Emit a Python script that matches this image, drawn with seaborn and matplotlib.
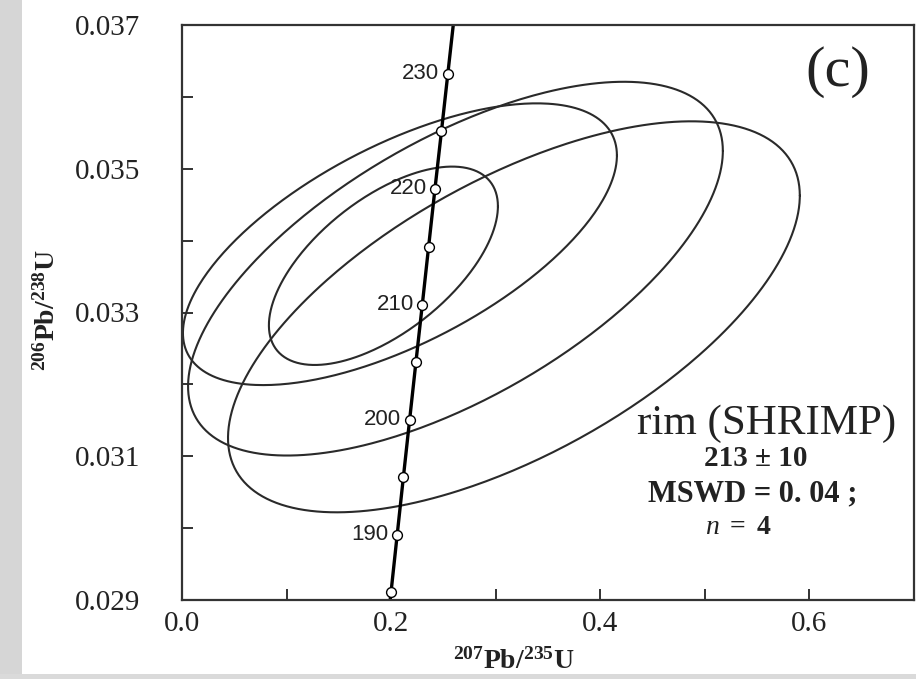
import numpy as np
import pandas as pd
import seaborn as sns
import matplotlib.pyplot as plt
from matplotlib.patches import Rectangle

# Concordia points (age in Ma, 207Pb/235U, 206Pb/238U)
ages = [185, 190, 195, 200, 205, 210, 215, 220, 225, 230]
conc_x = [0.1999, 0.2058, 0.2117, 0.2177, 0.2237, 0.2298, 0.2358, 0.2419, 0.2481, 0.2542]
conc_y = [0.02911, 0.02991, 0.03071, 0.03151, 0.03231, 0.03311, 0.03391, 0.03472, 0.03552, 0.03632]
labelled_ages = [190, 200, 210, 220, 230]

# concordia curve extended past the axes
curve_x = [0.1940, 0.1999, 0.2058, 0.2117, 0.2177, 0.2237, 0.2298, 0.2358,
           0.2419, 0.2481, 0.2542, 0.2604, 0.2667]
curve_y = [0.02832, 0.02911, 0.02991, 0.03071, 0.03151, 0.03231, 0.03311, 0.03391,
           0.03472, 0.03552, 0.03632, 0.03713, 0.03793]

# error ellipses: centre, half-widths and correlation
ell_cx = [0.1926, 0.2084, 0.2615, 0.3174]
ell_cy = [0.03365, 0.03395, 0.03361, 0.03294]
ell_sx = [0.1095, 0.2075, 0.2557, 0.2734]
ell_sy = [0.00138, 0.00196, 0.00260, 0.00272]
ell_rho = [0.60, 0.63, 0.63, 0.62]

sns.set_theme(style='ticks')
plt.rcParams['font.family'] = ['Liberation Serif', 'DejaVu Serif']
plt.rcParams['mathtext.fontset'] = 'custom'
plt.rcParams['mathtext.rm'] = 'Liberation Serif'
plt.rcParams['mathtext.bf'] = 'Liberation Serif:bold'
plt.rcParams['mathtext.it'] = 'Liberation Serif:italic'

fig = plt.figure(figsize=(9.16, 6.79), dpi=100, facecolor='white')
ax = fig.add_axes([182 / 916, 1 - 600 / 679, 732 / 916, 575 / 679])

# textured paper strip on the left, approximated with flat grey
fig.patches.append(Rectangle((0, 0), 22 / 916, 1, transform=fig.transFigure,
                             facecolor='#d6d6d6', edgecolor='none', zorder=-1))
fig.patches.append(Rectangle((0, 0), 1, 5 / 679, transform=fig.transFigure,
                             facecolor='#dadada', edgecolor='none', zorder=-1))

# ellipse outlines
t = np.linspace(0, 2 * np.pi, 400)
rows = []
for i in range(len(ell_cx)):
    ex = ell_cx[i] + ell_sx[i] * np.cos(t)
    ey = ell_cy[i] + ell_sy[i] * (ell_rho[i] * np.cos(t) + np.sqrt(1 - ell_rho[i] ** 2) * np.sin(t))
    rows.append(pd.DataFrame({'x': ex, 'y': ey, 'ell': i}))
ell_df = pd.concat(rows)
sns.lineplot(data=ell_df, x='x', y='y', units='ell', estimator=None, sort=False,
             color='#2a2a2a', linewidth=1.5, ax=ax, legend=False)

# concordia
sns.lineplot(x=curve_x, y=curve_y, sort=False, color='black', linewidth=2.4, ax=ax)
sns.scatterplot(x=conc_x, y=conc_y, marker='o', s=50, color='white',
                edgecolor='black', linewidth=1.0, zorder=5, ax=ax)
for a, x, y in zip(ages, conc_x, conc_y):
    if a in labelled_ages:
        ax.annotate(str(a), (x, y), xytext=(-6, 0), textcoords='offset points',
                    ha='right', va='center', fontsize=16,
                    family=['Liberation Sans', 'DejaVu Sans'], color='#222')

ax.set_xlim(0, 0.7)
ax.set_ylim(0.029, 0.037)
ax.set_xticks([0.0, 0.2, 0.4, 0.6])
ax.set_xticklabels(['0.0', '0.2', '0.4', '0.6'])
ax.set_xticks([0.1, 0.3, 0.5], minor=True)
ax.set_yticks([0.029, 0.031, 0.033, 0.035, 0.037])
ax.set_yticklabels(['0.029', '0.031', '0.033', '0.035', '0.037'])
ax.set_yticks([0.030, 0.032, 0.034, 0.036], minor=True)
ax.tick_params(which='both', direction='in', length=8, width=1.3, color='#222',
               top=False, right=False, labelsize=21, labelcolor='#222')
ax.tick_params(axis='x', pad=8)
ax.tick_params(axis='y', pad=30)
for s in ax.spines.values():
    s.set_linewidth(1.6)
    s.set_color('#333')

ax.set_xlabel('')
ax.set_ylabel('')
fig.text(514 / 916, 1 - 661 / 679, r'$\mathbf{^{207}Pb/^{235}U}$', ha='center', va='center',
         fontsize=20, color='#222')
fig.text(47 / 916, 1 - 310 / 679, r'$\mathbf{^{206}Pb/^{238}U}$', ha='center', va='center',
         fontsize=20, rotation=90, color='#222')

fig.text(838 / 916, 1 - 72 / 679, '(c)', ha='center', va='center', fontsize=42, color='#222')
fig.text(767 / 916, 1 - 424 / 679, 'rim (SHRIMP)', ha='center', va='center', fontsize=31, color='#222')
fig.text(756 / 916, 1 - 459 / 679, '213 ± 10', ha='center', va='center', fontsize=21,
         fontweight='bold', color='#222')
fig.text(753 / 916, 1 - 494 / 679, 'MSWD = 0. 04 ;', ha='center', va='center', fontsize=22,
         fontweight='bold', color='#222')
fig.text(738 / 916, 1 - 528 / 679, r'$\mathbf{\mathit{n}\ =\ 4}$', ha='center', va='center',
         fontsize=20, color='#222')

fig.savefig('out.png', dpi=100, facecolor='white')
